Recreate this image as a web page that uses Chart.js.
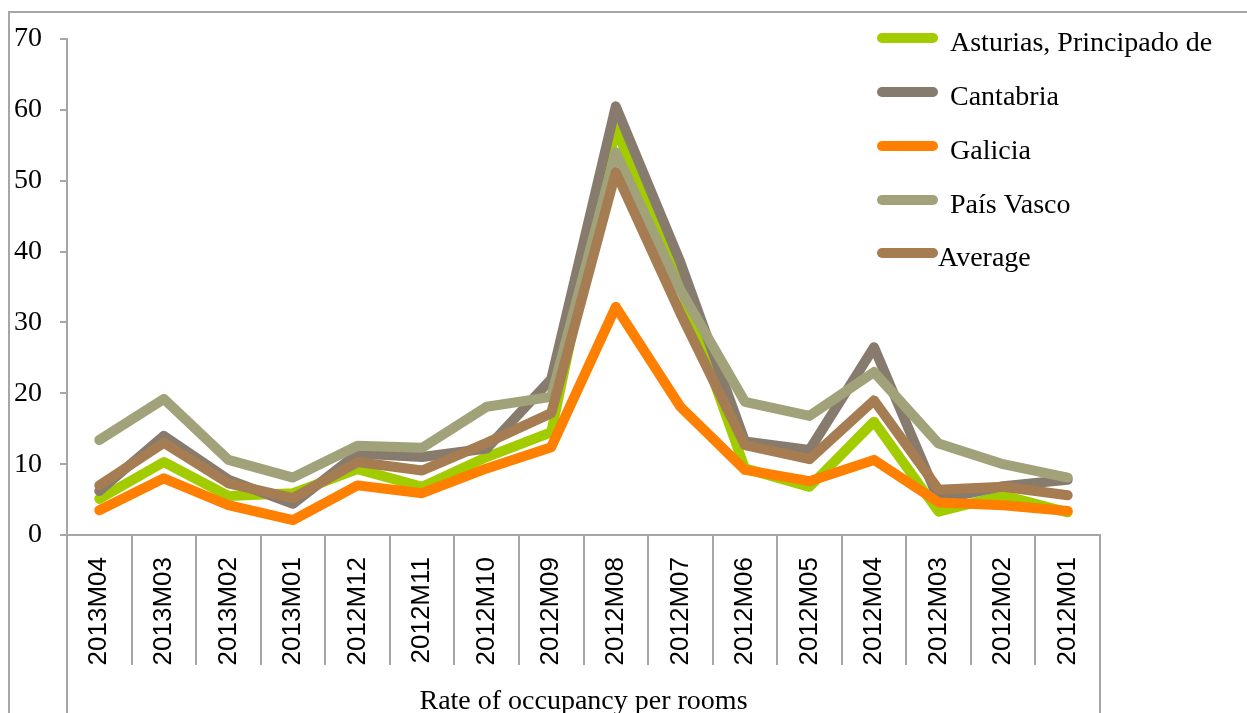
<!DOCTYPE html>
<html>
<head>
<meta charset="utf-8">
<title>Rate of occupancy per rooms</title>
<script src="https://cdn.jsdelivr.net/npm/chart.js@4/dist/chart.umd.min.js"></script>
<style>
  html, body { margin: 0; padding: 0; background: #ffffff; }
  #wrap { width: 1247px; height: 713px; position: relative; }
</style>
</head>
<body>
<div id="wrap"><canvas id="chart" width="1247" height="713"></canvas></div>
<script>
// Monthly periods, newest first
const months = ['2013M04','2013M03','2013M02','2013M01','2012M12','2012M11','2012M10','2012M09',
                '2012M08','2012M07','2012M06','2012M05','2012M04','2012M03','2012M02','2012M01'];

// Occupancy rate (%) per region
const asturias  = [5.1, 10.3, 5.5, 5.9, 9.3, 6.8, 11.0, 14.5, 57.5, 35.0, 9.4, 6.8, 16.0, 3.3, 5.6, 3.2];
const cantabria = [6.2, 14.0, 7.8, 4.4, 11.5, 11.0, 12.2, 22.0, 60.5, 38.5, 13.2, 12.0, 26.5, 5.0, 6.9, 7.8];
const galicia   = [3.5, 8.0, 4.2, 2.1, 7.0, 5.9, 9.4, 12.4, 32.2, 18.1, 9.2, 7.6, 10.6, 4.6, 4.2, 3.4];
const paisVasco = [13.4, 19.2, 10.6, 8.1, 12.6, 12.3, 18.1, 19.5, 54.0, 34.6, 18.8, 16.8, 23.0, 12.9, 10.0, 8.1];
const average   = [7.0, 13.0, 7.3, 5.2, 10.3, 9.1, 13.0, 17.2, 51.2, 31.3, 12.7, 10.7, 19.0, 6.4, 6.8, 5.6];

const seriesNames = ['Asturias, Principado de', 'Cantabria', 'Galicia', 'País Vasco', 'Average'];
const groupTitle = 'Rate of occupancy per rooms';
const yTicks = [0, 10, 20, 30, 40, 50, 60, 70];

const colors = ['#a2cb00', '#877b6e', '#ff7f00', '#a2a27a', '#a67c52'];
const AXIS = '#a6a6a6';
const SERIF = '"Liberation Serif", "DejaVu Serif", serif';
const SANS = '"Liberation Sans", Arial, sans-serif';

const seriesData = [asturias, cantabria, galicia, paisVasco, average];

const datasets = seriesData.map((d, i) => ({
  label: seriesNames[i],
  data: d,
  borderColor: colors[i],
  backgroundColor: colors[i],
  borderWidth: 10,
  borderCapStyle: 'round',
  borderJoinStyle: 'round',
  pointRadius: 0,
  pointHoverRadius: 0,
  tension: 0,
  fill: false,
  // later series are painted over earlier ones
  order: seriesNames.length - i
}));

// Frame, category separators, group caption and legend
const decorations = {
  id: 'decorations',
  beforeDraw(chart) {
    const ctx = chart.ctx;
    ctx.save();
    ctx.fillStyle = '#ffffff';
    ctx.fillRect(0, 0, chart.width, chart.height);
    ctx.strokeStyle = AXIS;
    ctx.lineWidth = 2;
    ctx.beginPath();
    ctx.moveTo(9, chart.height);
    ctx.lineTo(9, 12);
    ctx.lineTo(chart.width, 12);
    ctx.stroke();
    ctx.restore();
  },
  afterDraw(chart) {
    const ctx = chart.ctx;
    const x = chart.scales.x;
    const area = chart.chartArea;
    const n = months.length;
    const step = x.getPixelForTick(1) - x.getPixelForTick(0);
    ctx.save();
    ctx.strokeStyle = AXIS;
    ctx.lineWidth = 2;
    ctx.beginPath();
    for (let i = 0; i <= n; i++) {
      const px = Math.round(x.getPixelForTick(0) - step / 2 + i * step);
      const bottom = (i === 0 || i === n) ? chart.height : area.bottom + 130;
      ctx.moveTo(px, area.bottom);
      ctx.lineTo(px, bottom);
    }
    ctx.stroke();

    // group caption under the month labels
    ctx.fillStyle = '#000000';
    ctx.font = '28px ' + SERIF;
    ctx.textAlign = 'center';
    ctx.textBaseline = 'alphabetic';
    ctx.fillText(groupTitle, (area.left + area.right) / 2, 709);

    // legend
    const rows = [38, 92, 146, 200, 253];
    ctx.lineCap = 'round';
    ctx.lineWidth = 10;
    ctx.textAlign = 'left';
    chart.data.datasets.forEach((ds, i) => {
      const y = rows[i];
      ctx.strokeStyle = ds.borderColor;
      ctx.beginPath();
      ctx.moveTo(882, y);
      ctx.lineTo(933, y);
      ctx.stroke();
      ctx.fillStyle = '#000000';
      ctx.fillText(ds.label, i === 4 ? 938 : 950, y + 13);
    });
    ctx.restore();
  }
};

new Chart(document.getElementById('chart'), {
  type: 'line',
  data: { labels: months, datasets },
  plugins: [decorations],
  options: {
    responsive: false,
    animation: false,
    events: [],
    layout: { padding: { top: 39, right: 147, left: 0, bottom: 0 } },
    plugins: {
      legend: { display: false },
      tooltip: { enabled: false },
      title: { display: false }
    },
    scales: {
      x: {
        type: 'category',
        offset: true,
        grid: { display: false },
        border: { display: true, color: AXIS, width: 2 },
        ticks: {
          color: '#000000',
          font: { family: SANS, size: 26 },
          minRotation: 90,
          maxRotation: 90,
          autoSkip: false,
          padding: 14
        },
        afterFit(scale) { scale.height = 178; }
      },
      y: {
        min: 0,
        max: 70,
        afterBuildTicks(scale) { scale.ticks = yTicks.map(v => ({ value: v })); },
        grid: {
          display: true,
          drawOnChartArea: false,
          drawTicks: true,
          tickLength: 7,
          color: AXIS,
          lineWidth: 2
        },
        border: { display: true, color: AXIS, width: 2 },
        ticks: {
          color: '#000000',
          font: { family: SERIF, size: 28 },
          padding: 18
        },
        afterFit(scale) { scale.width = 67; }
      }
    }
  }
});
</script>
</body>
</html>
